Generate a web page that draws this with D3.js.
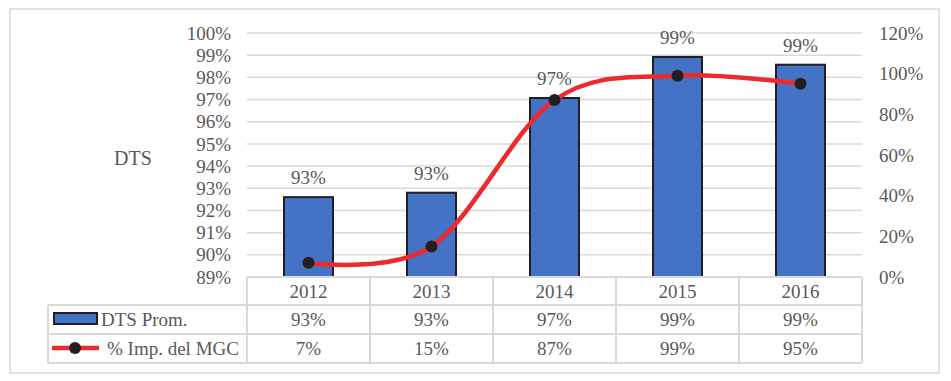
<!DOCTYPE html>
<html><head><meta charset="utf-8">
<script src="https://cdn.jsdelivr.net/npm/d3@7"></script>
<style>body{margin:0;background:#fff}svg{display:block}text{font-family:"Liberation Serif","Times New Roman",serif;fill:#595959}</style>
</head><body>
<script>
const years = ["2012","2013","2014","2015","2016"];
const dtsProm = [92.6, 92.8, 97.07, 98.92, 98.57];
const dtsLabels = ["93%","93%","97%","99%","99%"];
const impMGC = [7, 15, 87, 99, 95];
const impLabels = ["7%","15%","87%","99%","95%"];
const leftTicks = [89,90,91,92,93,94,95,96,97,98,99,100];
const rightTicks = [0,20,40,60,80,100,120];
const seriesNames = ["DTS Prom.", "% Imp. del MGC"];
const axisTitle = "DTS";

const W = 951, H = 381;
const svg = d3.select("body").append("svg").attr("width", W).attr("height", H);
const grid = "#d9d9d9";
const fs = 19;

svg.append("rect").attr("x",10).attr("y",9).attr("width",929).attr("height",364)
  .attr("fill","#fff").attr("stroke",grid).attr("stroke-width",1.5);

const L = 247, R = 862, T = 33, B = 277;
const x = d3.scaleBand().domain(years).range([L,R]).paddingInner(0).paddingOuter(0);
const yL = d3.scaleLinear().domain([89,100]).range([B,T]);
const yR = d3.scaleLinear().domain([0,120]).range([B,T]);

// gridlines
svg.append("g").selectAll("line").data(leftTicks).join("line")
  .attr("x1",L).attr("x2",R).attr("y1",d=>yL(d)).attr("y2",d=>yL(d))
  .attr("stroke",grid).attr("stroke-width",1.5);

// left axis
const ga = svg.append("g").attr("transform",`translate(${L},0)`)
  .call(d3.axisLeft(yL).tickValues(leftTicks).tickSize(0).tickPadding(16).tickFormat(d=>d+"%"));
ga.select(".domain").remove();
ga.selectAll("text").style("font-size",fs+"px").attr("fill","#595959").style("font-family",'"Liberation Serif",serif');

// right axis
const gr = svg.append("g").attr("transform",`translate(${R},0)`)
  .call(d3.axisRight(yR).tickValues(rightTicks).tickSize(0).tickPadding(17).tickFormat(d=>d+"%"));
gr.select(".domain").remove();
gr.selectAll("text").style("font-size",fs+"px").attr("fill","#595959").style("font-family",'"Liberation Serif",serif');

svg.append("text").attr("x",133).attr("y",160).attr("text-anchor","middle")
  .attr("dominant-baseline","middle").style("font-size","20px").text(axisTitle);

// bars
const bw = 49;
svg.append("g").selectAll("rect").data(years).join("rect")
  .attr("x",(d)=>x(d)+x.bandwidth()/2-bw/2)
  .attr("y",(d,i)=>yL(dtsProm[i]))
  .attr("width",bw)
  .attr("height",(d,i)=>B-yL(dtsProm[i]))
  .attr("fill","#4472c4").attr("stroke","#231f20").attr("stroke-width",2);

svg.append("g").selectAll("text").data(years).join("text")
  .attr("x",d=>x(d)+x.bandwidth()/2)
  .attr("y",(d,i)=>yL(dtsProm[i])-13)
  .attr("text-anchor","middle").style("font-size",fs+"px")
  .text((d,i)=>dtsLabels[i]);

// line
const line = d3.line().x((d,i)=>x(years[i])+x.bandwidth()/2).y(d=>yR(d)).curve(d3.curveCatmullRom.alpha(0));
svg.append("path").datum(impMGC).attr("d",line).attr("fill","none")
  .attr("stroke","#ec2a2e").attr("stroke-width",4.5);
svg.append("g").selectAll("circle").data(impMGC).join("circle")
  .attr("cx",(d,i)=>x(years[i])+x.bandwidth()/2).attr("cy",d=>yR(d)).attr("r",6)
  .attr("fill","#231f20");

// data table
const rows = [B, 305, 334, 363];
const tg = svg.append("g").attr("stroke",grid).attr("stroke-width",2);
tg.append("line").attr("x1",L).attr("x2",R).attr("y1",rows[0]).attr("y2",rows[0]);
[1,2,3].forEach(k=>tg.append("line").attr("x1",48).attr("x2",R).attr("y1",rows[k]).attr("y2",rows[k]));
tg.append("line").attr("x1",48).attr("x2",48).attr("y1",rows[1]).attr("y2",rows[3]);
years.forEach(d=>tg.append("line").attr("x1",x(d)).attr("x2",x(d)).attr("y1",rows[0]).attr("y2",rows[3]));
tg.append("line").attr("x1",R).attr("x2",R).attr("y1",rows[0]).attr("y2",rows[3]);

const cellY = k => (rows[k]+rows[k+1])/2;
svg.append("g").selectAll("text").data(years).join("text")
  .attr("x",d=>x(d)+x.bandwidth()/2).attr("y",cellY(0)).attr("dominant-baseline","central")
  .attr("text-anchor","middle").style("font-size",fs+"px").text(d=>d);
svg.append("g").selectAll("text").data(years).join("text")
  .attr("x",d=>x(d)+x.bandwidth()/2).attr("y",cellY(1)).attr("dominant-baseline","central")
  .attr("text-anchor","middle").style("font-size",fs+"px").text((d,i)=>dtsLabels[i]);
svg.append("g").selectAll("text").data(years).join("text")
  .attr("x",d=>x(d)+x.bandwidth()/2).attr("y",cellY(2)).attr("dominant-baseline","central")
  .attr("text-anchor","middle").style("font-size",fs+"px").text((d,i)=>impLabels[i]);

// legend keys
svg.append("rect").attr("x",54).attr("y",313).attr("width",43).attr("height",11)
  .attr("fill","#4472c4").attr("stroke","#231f20").attr("stroke-width",2);
svg.append("text").attr("x",101).attr("y",cellY(1)).attr("dominant-baseline","central")
  .style("font-size",fs+"px").text(seriesNames[0]);
svg.append("line").attr("x1",52).attr("x2",99).attr("y1",348).attr("y2",348)
  .attr("stroke","#ec2a2e").attr("stroke-width",4.5);
svg.append("circle").attr("cx",75).attr("cy",348).attr("r",6).attr("fill","#231f20");
svg.append("text").attr("x",107).attr("y",cellY(2)).attr("dominant-baseline","central")
  .style("font-size",fs+"px").text(seriesNames[1]);
</script>
</body></html>
